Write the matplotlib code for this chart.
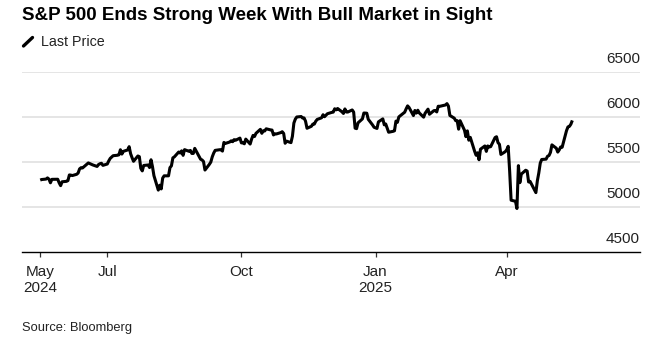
import numpy as np
import pandas as pd
import matplotlib
matplotlib.use("Agg")
import matplotlib.pyplot as plt
import matplotlib.transforms as mtransforms
from matplotlib.lines import Line2D

plt.rcParams['font.family'] = ['Liberation Sans', 'DejaVu Sans']

# S&P 500 closes (trading days, by month)
may24 = [5297, 5303, 5308, 5321, 5307, 5267, 5305, 5306, 5266, 5235, 5278]
jun24 = [5283, 5291, 5354, 5352, 5347, 5361, 5375, 5421, 5434, 5431, 5473, 5487,
         5473, 5465, 5448, 5469, 5478, 5483, 5460]
jul24 = [5475, 5509, 5537, 5567, 5572, 5577, 5633, 5585, 5615, 5631, 5667, 5589,
         5545, 5505, 5564, 5556, 5427, 5399, 5459, 5464, 5436, 5522]
aug24 = [5446, 5346, 5186, 5240, 5199, 5319, 5344, 5344, 5435, 5455, 5543, 5554,
         5608, 5597, 5621, 5571, 5634, 5616, 5625, 5592, 5592, 5648]
sep24 = [5528, 5520, 5503, 5408, 5471, 5496, 5554, 5596, 5626, 5633, 5634, 5618,
         5714, 5703, 5719, 5732, 5722, 5745, 5738, 5762]
oct24 = [5709, 5710, 5699, 5751, 5696, 5751, 5792, 5780, 5815, 5859, 5815, 5843,
         5841, 5865, 5853, 5851, 5797, 5809, 5808, 5823, 5833, 5813, 5705]
nov24 = [5728, 5712, 5783, 5929, 5973, 5996, 6001, 5984, 5985, 5949, 5871, 5893,
         5917, 5917, 5949, 5969, 5987, 6021, 5999, 6032]
dec24 = [6047, 6050, 6087, 6075, 6090, 6053, 6035, 6085, 6051, 6051, 6074, 6050,
         5872, 5867, 5931, 5975, 6040, 6038, 5971, 5907, 5882]
jan25 = [5869, 5942, 5975, 5909, 5918, 5827, 5837, 5843, 5950, 5937, 5997, 6049,
         6086, 6119, 6101, 6012, 6068, 6039, 6071, 6041]
feb25 = [5994, 6037, 6061, 6083, 6026, 6066, 6068, 6052, 6115, 6114, 6129, 6144,
         6117, 6013, 5983, 5955, 5956, 5861, 5955]
mar25 = [5850, 5778, 5842, 5739, 5770, 5615, 5572, 5599, 5522, 5639, 5675, 5615,
         5675, 5663, 5668, 5768, 5777, 5712, 5693, 5581, 5612]
apr25 = [5633, 5671, 5397, 5074, 5062, 4982, 5457, 5268, 5363, 5406, 5397, 5276,
         5283, 5158, 5288, 5376, 5485, 5525, 5529, 5561, 5569]
may25 = [5604, 5687, 5650, 5607, 5631, 5664, 5660, 5844, 5886, 5892, 5916, 5958]

holidays = ['2024-05-27', '2024-06-19', '2024-07-04', '2024-09-02', '2024-11-28',
            '2024-12-25', '2025-01-01', '2025-01-09', '2025-01-20', '2025-02-17',
            '2025-04-18']

prices = (may24 + jun24 + jul24 + aug24 + sep24 + oct24 + nov24 + dec24
          + jan25 + feb25 + mar25 + apr25 + may25)
dates = pd.bdate_range('2024-05-16', '2025-05-16', freq='C', holidays=holidays)
assert len(dates) == len(prices), (len(dates), len(prices))

tick_dates = pd.to_datetime(['2024-05-16', '2024-07-01', '2024-10-01', '2025-01-01', '2025-04-01'])
tick_labels = ['May\n2024', 'Jul', 'Oct', 'Jan\n2025', 'Apr']
y_ticks = [4500, 5000, 5500, 6000, 6500]

fig = plt.figure(figsize=(6.67, 3.53), dpi=100)
ax = fig.add_axes([22/667, 101/353, 618/667, 180.5/353])

ax.plot(dates, prices, color='black', linewidth=2.2, solid_joinstyle='round',
        solid_capstyle='butt', zorder=3)

ax.set_xlim(pd.Timestamp('2024-05-03 12:00'), pd.Timestamp('2025-07-01 10:00'))
ax.set_ylim(4500, 6500)

# gridlines
for v in y_ticks[1:]:
    ax.axhline(v, color='#dedede', linewidth=1.1, zorder=1)

ax.set_yticks([])
for s in ['top', 'right', 'left']:
    ax.spines[s].set_visible(False)
ax.spines['bottom'].set_color('black')
ax.spines['bottom'].set_linewidth(1.0)
ax.spines['bottom'].set_zorder(4)

ax.set_xticks(tick_dates)
ax.set_xticklabels(tick_labels, fontsize=11, color='#222222', linespacing=1.15)
ax.tick_params(axis='x', length=3.5, width=0.9, color='#333333', pad=6)

# y labels on the right, sitting above the gridlines
off = mtransforms.ScaledTranslation(0, 4/72, fig.dpi_scale_trans)
for v in y_ticks:
    ax.text(1.0, v, str(v), transform=ax.get_yaxis_transform() + off,
            ha='right', va='bottom', fontsize=11, color='#222222')

fig.text(22/667, 1 - 15/353, 'S&P 500 Ends Strong Week With Bull Market in Sight',
         fontsize=13.5, fontweight='bold', va='center', ha='left', color='black')

fig.lines.append(Line2D([23.5/667, 32.5/667], [1 - 46/353, 1 - 37.5/353],
                        transform=fig.transFigure, color='black', linewidth=2.4,
                        solid_capstyle='round'))
fig.text(41/667, 1 - 41.5/353, 'Last Price', fontsize=10.3, va='center', ha='left',
         color='#222222')
fig.text(22/667, 1 - 328/353, 'Source: Bloomberg', fontsize=9.3, va='center',
         ha='left', color='#222222')

fig.savefig('out.png', dpi=100)
